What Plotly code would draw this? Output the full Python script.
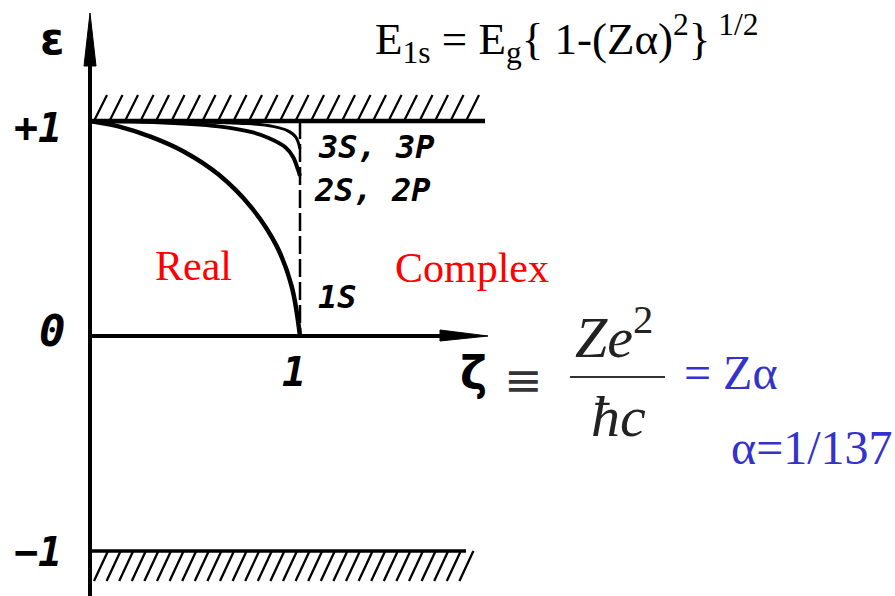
import numpy as np
import plotly.graph_objects as go

# ---- data: Dirac bound-state energies vs coupling ----
zeta_1s = [0.0, 0.135, 0.294, 0.452, 0.611, 0.770, 0.889, 0.960, 1.0]
eps_1s = [1.0, 0.975, 0.925, 0.855, 0.752, 0.596, 0.418, 0.232, 0.0]

zeta_2s = [0.0, 0.30, 0.611, 0.771, 0.848, 0.929, 0.967, 0.990, 1.0]
eps_2s = [1.0, 0.995, 0.975, 0.948, 0.922, 0.879, 0.833, 0.775, 0.745]

zeta_3s = [0.0, 0.50, 0.75, 0.87, 0.94, 0.98, 1.0]
eps_3s = [1.0, 0.997, 0.988, 0.975, 0.955, 0.925, 0.870]

continuum_levels = [1.0, -1.0]
zeta_critical = 1.0

level_labels = ["3S, 3P", "2S, 2P", "1S"]
y_tick_labels = ["+1", "0", "−1"]
x_tick_label = "1"

W, H = 895, 596
X0, Y0 = 90, 336      # pixel position of the origin
SX, SY = 210, 215     # pixels per unit


def to_x(px):
    return (px - X0) / SX


def to_y(py):
    return (Y0 - py) / SY


fig = go.Figure()


def line(x, y, width=3, dash=None, color="black", shape="linear"):
    fig.add_trace(go.Scatter(x=x, y=y, mode="lines", hoverinfo="skip",
                             line=dict(color=color, width=width, dash=dash, shape=shape,
                                       smoothing=1.0 if shape == "spline" else None)))


def tri(xs, ys):
    fig.add_trace(go.Scatter(x=xs, y=ys, mode="lines", fill="toself", fillcolor="black",
                             line=dict(color="black", width=1), hoverinfo="skip"))


# axes with arrows
line([0, 0], [to_y(596), to_y(60)], width=4)
tri([to_x(84), 0, to_x(96), to_x(84)], [to_y(66), to_y(13), to_y(66), to_y(66)])
line([0, to_x(446)], [0, 0], width=4)
tri([to_x(440), to_x(488), to_x(440), to_x(440)], [to_y(330), 0, to_y(341), to_y(330)])

# continuum edges with hatching
top_end, bot_end = to_x(485), to_x(466)
line([0, top_end], [continuum_levels[0]] * 2, width=4.5)
line([0, bot_end], [continuum_levels[1]] * 2, width=3.5)

hx, hy = [], []
h_top, d_top = 26 / SY, 13 / SX
for x in np.arange(to_x(94), top_end - d_top * 0.3, 15.5 / SX):
    hx += [x, x + d_top, None]
    hy += [continuum_levels[0], continuum_levels[0] + h_top, None]
h_bot, d_bot = 30 / SY, 14 / SX
for x in np.arange(to_x(94) + d_bot, bot_end + d_bot * 0.6, 12.6 / SX):
    hx += [x - d_bot, x, None]
    hy += [continuum_levels[1] - h_bot, continuum_levels[1], None]
line(hx, hy, width=2.3)

# critical coupling
line([zeta_critical, zeta_critical], [continuum_levels[0], 0], width=2.5, dash="18px,5px")

# bound-state curves
line(zeta_3s, eps_3s, width=3, shape="spline")
line(zeta_2s, eps_2s, width=4, shape="spline")
line(zeta_1s, eps_1s, width=4.5, shape="spline")

# fraction bar for Ze^2 / hbar c
line([to_x(570), to_x(665)], [to_y(377)] * 2, width=2, color="#333333")

HAND = "DejaVu Sans Mono"
SERIF = "Liberation Serif"
BLUE = "#3333cc"


def text(px, py, s, size, family=SERIF, color="black", style="normal", weight="normal",
         xanchor="center"):
    fig.add_annotation(x=to_x(px), y=to_y(py), xref="x", yref="y", text=s, showarrow=False,
                       xanchor=xanchor, yanchor="middle",
                       font=dict(family=family, size=size, color=color, style=style,
                                 weight=weight))


text(52, 38, "ε", 44, family="DejaVu Sans", weight="bold")
text(38, 128, y_tick_labels[0], 40, family=HAND, style="italic", weight="bold")
text(52, 330, y_tick_labels[1], 44, family=HAND, style="italic", weight="bold")
text(38, 552, y_tick_labels[2], 40, family=HAND, style="italic", weight="bold")
text(294, 372, x_tick_label, 40, family=HAND, style="italic", weight="bold")

text(376, 147, level_labels[0], 32, family=HAND, style="italic", weight="bold")
text(372, 190, level_labels[1], 32, family=HAND, style="italic", weight="bold")
text(337, 297, level_labels[2], 32, family=HAND, style="italic", weight="bold")

text(473, 373, "ζ", 46, family="DejaVu Sans", weight="bold")
text(523, 380, "≡", 46, family="DejaVu Sans", color="#333333")
text(614, 333, "<i>Ze</i><sup>2</sup>", 58, color="#222222")
text(618, 416, "<i>ħc</i>", 58, color="#222222")
text(731, 372, "= Zα", 48, color=BLUE)
text(895, 447, "α=1/137", 48, color=BLUE, xanchor="right")

text(193, 266, "Real", 42, color="red")
text(472, 268, "Complex", 42, color="red")

text(567, 38, "E<sub>1s</sub> = E<sub>g</sub>{ 1-(Zα)<sup>2</sup>}<sup> 1/2</sup>", 45)

fig.update_layout(
    width=W, height=H, autosize=False,
    margin=dict(l=0, r=0, t=0, b=0),
    paper_bgcolor="white", plot_bgcolor="white",
    showlegend=False,
    xaxis=dict(visible=False, range=[to_x(0), to_x(W)], fixedrange=True),
    yaxis=dict(visible=False, range=[to_y(H), to_y(0)], fixedrange=True),
)

fig.write_html("out.html")
